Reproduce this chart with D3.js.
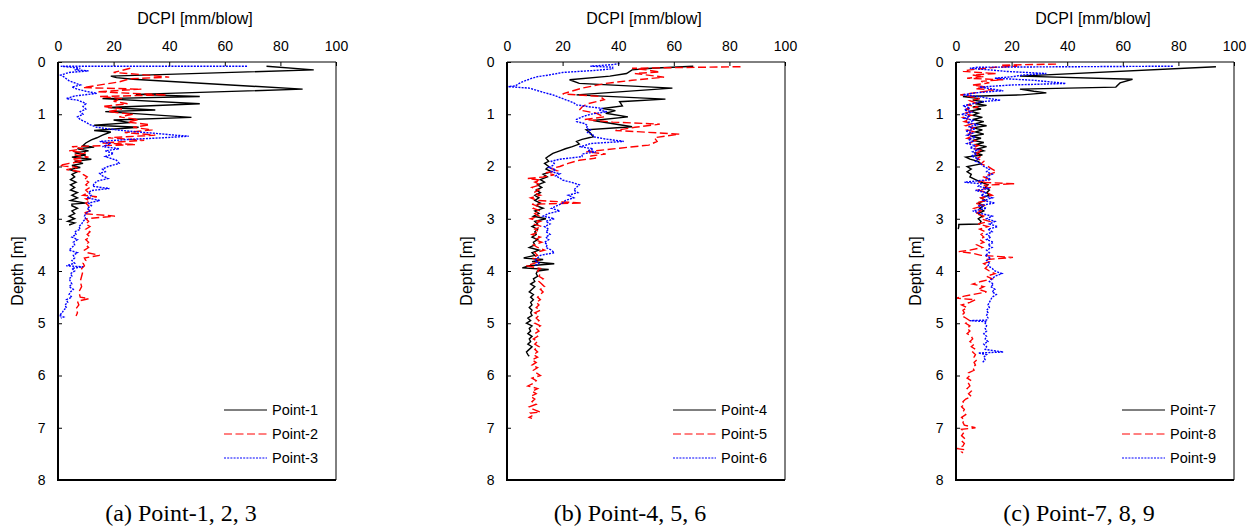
<!DOCTYPE html>
<html>
<head>
<meta charset="utf-8">
<script src="https://cdn.jsdelivr.net/npm/d3@7"></script>
<style>
  body { margin: 0; background: #fff; }
  text { font-family: "Liberation Sans", Arial, sans-serif; fill: #000; }
  .caption { font-family: "Liberation Serif", "Times New Roman", serif; }
</style>
</head>
<body>
<div class="chart"></div>
<script>
// tick values and labels
var xTicks = [0, 20, 40, 60, 80, 100];
var yTicks = [0, 1, 2, 3, 4, 5, 6, 7, 8];
var xTitle = "DCPI [mm/blow]";
var yTitle = "Depth [m]";
var captions = ["(a) Point-1, 2, 3", "(b) Point-4, 5, 6", "(c) Point-7, 8, 9"];
var seriesNames = [["Point-1", "Point-2", "Point-3"],
                   ["Point-4", "Point-5", "Point-6"],
                   ["Point-7", "Point-8", "Point-9"]];

// each point is [depth (m), DCPI (mm/blow)]
var point1 = [[0.08,75],[0.15,92],[0.27,19],[0.30,21],[0.33,27],[0.52,88],[0.62,28],[0.66,51],[0.70,16],[0.80,51],
  [0.87,18],[0.92,35],[0.95,17],[1.06,48],[1.11,20],[1.16,26],[1.21,13],[1.25,29],[1.31,13],[1.34,19],[1.40,16],
  [1.45,14],[1.49,12],[1.55,10],[1.60,9],[1.63,13],[1.66,7],[1.70,11],[1.74,6],[1.78,10],[1.82,5],[1.86,12],
  [1.90,6],[1.94,9],[1.98,5],[2.02,8],[2.06,4],[2.10,7],[2.15,5],[2.20,6],[2.25,4.5],[2.30,6.5],[2.35,4.5],
  [2.40,6],[2.45,4.5],[2.50,7],[2.55,5],[2.60,7],[2.65,4.5],[2.70,10],[2.72,5],[2.75,5],[2.80,7],[2.85,5],
  [2.90,6],[2.95,4],[3.00,6],[3.05,3.5],[3.08,6],[3.12,4]];

var point2 = [[0.12,26],[0.20,20],[0.24,30],[0.29,40],[0.32,26],[0.38,22],[0.49,9],[0.52,30],[0.57,14],[0.63,39],
  [0.66,15],[0.70,23],[0.75,20],[0.80,25],[0.85,16],[0.90,23],[0.95,18],[1.00,27],[1.05,22],[1.10,29],[1.15,25],
  [1.20,33],[1.25,27],[1.30,34],[1.35,24],[1.40,35],[1.45,18],[1.50,31],[1.55,16],[1.58,28],[1.62,5],[1.66,9],
  [1.70,4],[1.74,10],[1.78,6],[1.82,11],[1.86,5],[1.90,9],[1.94,4],[1.98,0.5],[2.02,7],[2.06,3],[2.10,8],
  [2.15,9],[2.20,10.5],[2.25,9.5],[2.30,11],[2.35,10],[2.40,11.5],[2.45,10],[2.50,11],[2.55,9],[2.58,14],
  [2.62,10],[2.66,11.5],[2.70,10],[2.75,11],[2.80,10.5],[2.85,11.5],[2.90,9],[2.95,20.5],[3.00,10],[3.05,11],
  [3.10,10],[3.15,11.5],[3.20,10],[3.25,11.5],[3.30,10.5],[3.35,11.5],[3.40,10],[3.45,11],[3.50,10],[3.55,11],
  [3.60,9.5],[3.65,10.5],[3.70,15],[3.75,9.5],[3.80,10],[3.85,9],[3.90,9.5],[3.95,8.5],[4.00,9],[4.10,8.5],
  [4.20,8],[4.30,8.5],[4.40,7.5],[4.50,8],[4.53,11],[4.58,7],[4.65,7.5],[4.72,6.5],[4.80,7],[4.86,6.5]];

var point3 = [[0.08,68],[0.08,1],[0.12,8],[0.15,6],[0.17,11],[0.20,4],[0.25,1],[0.28,2],[0.32,3],[0.36,4],
  [0.40,6],[0.44,8],[0.48,5],[0.52,7],[0.56,10],[0.60,14],[0.65,6],[0.70,3],[0.73,7],[0.77,9],[0.80,10],
  [0.85,9],[0.90,10],[0.95,8],[1.00,9],[1.05,7],[1.10,8],[1.15,10],[1.20,11.5],[1.25,14],[1.30,21],[1.34,29],
  [1.37,36],[1.40,42],[1.42,47],[1.45,38],[1.48,26],[1.52,15],[1.56,19],[1.62,16],[1.66,22],[1.70,17],
  [1.75,20],[1.81,17],[1.88,21],[1.94,22],[2.00,18],[2.05,16],[2.10,17],[2.13,15],[2.18,16],[2.23,18],
  [2.28,14],[2.33,13],[2.38,12.5],[2.42,18.5],[2.46,12],[2.50,11],[2.55,12],[2.60,10.5],[2.65,15],[2.70,11],
  [2.75,12],[2.80,10.5],[2.85,11.5],[2.90,10],[2.95,9.5],[3.00,10],[3.05,9],[3.10,8.5],[3.15,7.5],[3.20,8],
  [3.25,6],[3.30,6.5],[3.35,5],[3.40,7],[3.45,5.5],[3.50,6],[3.55,5],[3.60,4],[3.65,7],[3.70,5.5],[3.75,6],
  [3.80,5],[3.85,6],[3.90,3],[3.92,9],[3.95,5],[4.00,6],[4.05,4.5],[4.10,5],[4.15,4],[4.20,4.5],[4.25,5],
  [4.30,4],[4.35,5.5],[4.40,4.5],[4.45,4],[4.50,5],[4.55,3],[4.60,3.5],[4.65,2.5],[4.70,3],[4.75,2],
  [4.80,1.5],[4.85,0.5],[4.88,2],[4.90,1]];

var point4 = [[0.08,67],[0.12,52],[0.15,45],[0.22,43],[0.27,37],[0.34,22.5],[0.41,26],[0.50,59.5],[0.63,25],
  [0.71,57],[0.76,40.5],[0.84,41.5],[0.89,34.5],[0.93,39],[0.98,35.5],[1.05,43.5],[1.12,31],[1.24,45],[1.30,28.5],
  [1.36,30],[1.43,31],[1.48,27],[1.52,25],[1.57,26],[1.62,23.5],[1.66,21],[1.70,19],[1.75,16.5],[1.80,15],
  [1.84,14],[1.90,15],[1.94,13.5],[2.00,15],[2.05,14],[2.10,16],[2.15,13],[2.20,14.5],[2.25,12],[2.30,13.5],
  [2.35,11],[2.40,12.5],[2.45,10.5],[2.50,12],[2.55,10],[2.60,11.5],[2.65,10],[2.70,12],[2.75,10.5],[2.80,13],
  [2.85,10],[2.90,11.5],[2.95,9.5],[3.00,14],[3.05,10],[3.10,11],[3.15,9],[3.20,11],[3.25,10],[3.30,10.5],
  [3.35,9],[3.40,11],[3.45,9.5],[3.50,10],[3.55,8],[3.60,11.5],[3.65,9],[3.70,10],[3.75,6],[3.78,13],[3.82,9],
  [3.86,17],[3.90,8],[3.94,5.5],[3.97,15],[4.00,11],[4.05,10.5],[4.10,11],[4.15,9.5],[4.20,10],[4.25,8.5],
  [4.30,10],[4.35,9],[4.40,8],[4.45,9.5],[4.50,8.5],[4.55,9.5],[4.60,8.5],[4.65,9],[4.70,8],[4.75,9],[4.80,8.5],
  [4.85,9],[4.90,7.5],[4.95,8.5],[5.00,7],[5.05,9],[5.10,8],[5.15,8.5],[5.20,7.5],[5.25,9],[5.30,8],[5.35,8.5],
  [5.40,7.5],[5.45,9],[5.50,8],[5.55,7],[5.60,7.5],[5.63,8]];

var point5 = [[0.09,84],[0.12,45],[0.15,50],[0.19,55],[0.22,46],[0.29,56.5],[0.35,45],[0.41,35.5],[0.50,27],
  [0.61,20],[0.66,33.5],[0.72,35],[0.80,29],[0.86,27],[0.92,26],[0.98,32],[1.05,35],[1.10,28],[1.15,38],[1.19,55],
  [1.25,46],[1.31,39],[1.38,62],[1.45,53],[1.52,54],[1.59,51],[1.63,44],[1.65,40.5],[1.72,28.5],[1.76,35.5],
  [1.80,30],[1.84,32],[1.88,26],[1.94,22],[2.00,19],[2.04,16],[2.08,18],[2.12,14],[2.16,17],[2.20,13],[2.23,7.5],
  [2.26,12],[2.30,10],[2.35,12],[2.40,9],[2.45,11.5],[2.50,9.5],[2.55,12],[2.60,8.5],[2.65,11],[2.70,27],
  [2.72,9],[2.76,11],[2.80,9.5],[2.85,12],[2.90,10],[2.95,11.5],[3.00,8.5],[3.05,12],[3.10,9.5],[3.15,12.5],
  [3.20,10],[3.25,11.5],[3.30,9],[3.35,12],[3.40,10],[3.45,12.5],[3.50,9.5],[3.55,11],[3.60,13.5],[3.65,10],
  [3.70,11],[3.75,9],[3.80,12],[3.85,10],[3.90,7],[3.95,12],[4.00,11],[4.05,12],[4.10,11.5],[4.15,13],
  [4.20,11.5],[4.25,12.5],[4.30,13.5],[4.35,12],[4.40,13],[4.45,12],[4.50,11],[4.55,12],[4.60,10.5],[4.65,11.5],
  [4.70,10.5],[4.75,12],[4.80,10],[4.85,11.5],[4.90,10.5],[4.95,11.5],[5.00,10],[5.05,12],[5.10,10.5],[5.15,11.5],
  [5.20,10],[5.25,11],[5.30,9.5],[5.35,11],[5.40,10],[5.45,11.5],[5.50,10],[5.55,11],[5.60,9.5],[5.65,11],
  [5.70,9],[5.75,10.5],[5.80,9],[5.85,11],[5.90,9.5],[5.95,10.5],[6.00,12],[6.05,9],[6.10,10.5],[6.15,9.5],
  [6.20,7.5],[6.25,11],[6.30,9],[6.35,10.5],[6.40,8.5],[6.45,10],[6.50,9],[6.55,10.5],[6.60,8],[6.65,9.5],
  [6.70,12],[6.72,8.5],[6.76,9.5],[6.80,8],[6.82,9]];

var point6 = [[0.03,40.5],[0.05,38],[0.08,30],[0.10,38],[0.13,38],[0.16,32],[0.20,20],[0.25,15],[0.28,11],
  [0.31,9],[0.35,7],[0.38,5.5],[0.42,4],[0.46,3],[0.47,0],[0.50,8],[0.54,10.5],[0.58,13],[0.63,16.5],[0.68,19],
  [0.73,21.5],[0.78,24],[0.82,25],[0.86,30],[0.89,34.5],[0.92,33],[0.95,36],[1.00,30],[1.05,27],[1.10,25],
  [1.14,25],[1.18,28],[1.22,29],[1.27,28.5],[1.30,30],[1.35,29],[1.40,31],[1.43,31],[1.47,35],[1.52,42],
  [1.56,30],[1.60,28],[1.62,26],[1.66,31],[1.70,29],[1.72,32],[1.76,27],[1.81,27],[1.86,19],[1.90,16],[1.94,17],
  [1.98,16.5],[2.02,15],[2.06,17.5],[2.10,16],[2.14,19],[2.18,17.5],[2.22,19],[2.26,20],[2.30,23],[2.35,26],
  [2.40,25],[2.45,24],[2.50,25.5],[2.55,22],[2.60,24],[2.65,21],[2.70,20],[2.75,18],[2.80,16],[2.85,19],
  [2.90,15],[2.95,13],[3.00,17],[3.05,14],[3.10,15.5],[3.15,13.5],[3.20,15],[3.25,14],[3.30,15.5],[3.35,14],
  [3.40,15],[3.45,13.5],[3.50,14.5],[3.55,14],[3.60,16],[3.65,17],[3.70,12],[3.75,11],[3.80,10],[3.85,11.5],
  [3.90,10]];

var point7 = [[0.09,93.5],[0.27,23],[0.33,63.5],[0.40,59],[0.48,57.5],[0.52,23],[0.56,28],[0.59,32.5],[0.63,23.5],
  [0.66,2.5],[0.70,8.5],[0.73,6],[0.76,10],[0.80,7],[0.83,11],[0.86,6],[0.90,9],[0.94,5],[0.98,8],[1.02,6],
  [1.06,9.5],[1.10,6],[1.14,10],[1.18,7],[1.22,11],[1.26,6],[1.30,9.5],[1.34,7],[1.38,10],[1.42,5.5],[1.46,9],
  [1.50,6],[1.54,10],[1.58,7],[1.62,11],[1.66,8],[1.70,10],[1.74,7],[1.78,9.5],[1.82,3.5],[1.86,5],[1.90,8],
  [1.95,9],[2.00,4],[2.05,5.5],[2.10,4],[2.15,5.5],[2.20,5],[2.25,7],[2.30,9],[2.35,11.5],[2.40,10.5],[2.45,12],
  [2.50,11],[2.55,12],[2.60,9],[2.65,10.5],[2.70,8],[2.75,10],[2.80,8.5],[2.85,10],[2.90,8],[2.95,9.5],[3.00,8],
  [3.05,9],[3.10,8.5],[3.11,1],[3.15,1],[3.20,0.8]];

var point8 = [[0.04,36],[0.06,16],[0.08,22],[0.10,14],[0.13,9],[0.15,5],[0.18,2.5],[0.20,8],[0.22,14.5],[0.25,6],
  [0.28,10],[0.31,4],[0.34,17],[0.37,9],[0.40,12],[0.44,6],[0.48,11],[0.51,7],[0.54,13.5],[0.58,8],[0.63,1.5],
  [0.66,5],[0.70,8.5],[0.74,5],[0.78,7],[0.82,4],[0.86,8],[0.90,3.5],[0.94,6],[0.98,3],[1.02,5.5],[1.06,2.5],
  [1.10,5],[1.14,3],[1.18,6],[1.22,3.5],[1.26,6.5],[1.30,4],[1.34,7],[1.38,4.5],[1.42,6],[1.46,4],[1.50,7],
  [1.55,5],[1.60,8],[1.65,6],[1.70,9.5],[1.75,7],[1.80,9],[1.85,7.5],[1.90,10],[1.95,9],[2.00,11.5],[2.05,13],
  [2.10,14.5],[2.15,12],[2.20,10],[2.25,12],[2.30,8],[2.33,21],[2.36,10],[2.40,12.5],[2.45,8],[2.50,11],
  [2.55,13],[2.60,9],[2.65,11],[2.70,7],[2.75,10],[2.80,6.5],[2.85,9],[2.90,7],[2.95,10],[3.00,9],[3.05,12],
  [3.10,8],[3.15,11.5],[3.20,8.5],[3.25,10.5],[3.30,9],[3.35,10],[3.40,8.5],[3.45,10],[3.50,7.5],[3.55,9.5],
  [3.60,5],[3.63,1],[3.66,6],[3.70,9],[3.74,20.5],[3.78,11],[3.82,12],[3.86,10],[3.90,11.5],[3.95,10.5],
  [4.00,12],[4.05,14],[4.10,11],[4.15,13],[4.20,9],[4.25,6],[4.30,10],[4.35,8],[4.40,11],[4.45,6],[4.48,3],
  [4.52,0],[4.55,7],[4.60,5],[4.65,2],[4.70,4],[4.75,2.5],[4.80,3],[4.85,2],[4.90,3.5],[4.95,5],[5.00,3.5],
  [5.05,5],[5.10,4],[5.15,5],[5.20,4],[5.25,5.5],[5.30,6],[5.35,5],[5.40,6.5],[5.45,5.5],[5.50,7],[5.55,6],
  [5.60,7],[5.65,6.5],[5.70,7.5],[5.75,6.5],[5.80,7],[5.85,6],[5.90,6.5],[5.95,4.5],[6.00,5],[6.05,4],[6.10,5.5],
  [6.15,4.5],[6.20,5],[6.25,4],[6.30,5.5],[6.35,4.5],[6.40,5.5],[6.45,3.5],[6.50,2.5],[6.55,3],[6.60,2],
  [6.65,3],[6.70,2.5],[6.75,3.5],[6.80,2],[6.85,3],[6.90,2.5],[6.95,3],[7.00,7],[7.03,2],[7.08,3],[7.15,2],
  [7.20,3],[7.25,2],[7.30,3],[7.35,2.5],[7.40,0.5],[7.42,3],[7.46,2],[7.48,2.5]];

var point9 = [[0.08,78],[0.10,8],[0.12,5],[0.15,12],[0.18,18],[0.22,32.5],[0.25,24],[0.28,20.5],[0.31,14],
  [0.35,28],[0.41,39.5],[0.44,20],[0.48,8.5],[0.51,12],[0.55,17],[0.59,7],[0.63,2.5],[0.66,8],[0.70,12],
  [0.73,16],[0.76,9],[0.80,6],[0.84,2.5],[0.88,5],[0.92,3],[0.96,6],[1.00,2],[1.04,5],[1.08,3],[1.12,6.5],
  [1.16,4],[1.20,8],[1.24,4.5],[1.28,7],[1.32,3.5],[1.36,6],[1.40,4],[1.44,7],[1.48,4.5],[1.52,6],[1.56,4],
  [1.60,7],[1.64,5],[1.68,8],[1.72,6],[1.76,7.5],[1.80,5.5],[1.85,8],[1.90,7],[1.95,9],[2.00,10],[2.05,12],
  [2.10,11],[2.15,13],[2.20,11],[2.25,12.5],[2.30,3],[2.33,9],[2.38,8],[2.42,12],[2.46,7],[2.50,11],[2.55,9],
  [2.60,13],[2.65,10],[2.70,14],[2.75,8],[2.80,11],[2.85,6],[2.90,9],[2.95,13],[3.00,11],[3.05,14],[3.10,12],
  [3.15,15],[3.20,11.5],[3.25,13],[3.30,11],[3.35,12.5],[3.40,11],[3.45,13.5],[3.50,11.5],[3.55,13],[3.60,11],
  [3.65,12],[3.70,10.5],[3.75,12.5],[3.80,11],[3.85,12],[3.90,11.5],[3.95,13],[4.00,14],[4.05,16.5],[4.10,14],
  [4.15,13],[4.20,12],[4.25,13.5],[4.30,12.5],[4.35,14],[4.40,13],[4.45,14.5],[4.50,13],[4.55,12.5],[4.60,12],
  [4.65,11.5],[4.70,12],[4.75,11],[4.80,11.5],[4.85,11],[4.90,11.5],[4.94,11],[4.95,5],[4.97,11],[5.00,10.5],
  [5.05,11],[5.10,10.5],[5.15,11],[5.20,10],[5.25,11],[5.30,10.5],[5.35,11.5],[5.40,10],[5.45,11],[5.50,10.5],
  [5.52,13],[5.55,17],[5.57,8],[5.60,11],[5.65,10],[5.70,10.5],[5.75,9.5]];

var panelSeries = [[point1, point2, point3], [point4, point5, point6], [point7, point8, point9]];

// layout
var plotW = 278, plotH = 418, plotTop = 62, firstLeft = 58, panelStep = 449;

// line styles, by position inside each panel
var styles = [
    {stroke: "#000", dash: null},
    {stroke: "#ff0000", dash: "8,3.5"},
    {stroke: "#0000ff", dash: "2,1.2"}
];

var svg = d3.select(".chart").append("svg")
    .attr("width", 1259)
    .attr("height", 530);

var x = d3.scaleLinear().domain([0, 100]).range([0, plotW]);
var y = d3.scaleLinear().domain([0, 8]).range([0, plotH]);

var valueline = d3.line()
    .x(function(d) { return x(d[1]); })
    .y(function(d) { return y(d[0]); });

panelSeries.forEach(function(series, p) {

    var g = svg.append("g")
        .attr("transform", "translate(" + (firstLeft + p * panelStep) + "," + plotTop + ")");

    // series lines (the dense blow-by-blow traces look heavy in the original)
    series.forEach(function(data, i) {
        g.append("path")
            .attr("d", valueline(data))
            .attr("fill", "none")
            .attr("stroke", styles[i].stroke)
            .attr("stroke-width", 1.4)
            .attr("stroke-dasharray", styles[i].dash);
    });

    // top axis, ticks pointing into the plot
    var xAxis = d3.axisTop(x).tickValues(xTicks).tickSizeInner(-4).tickSizeOuter(0).tickPadding(10);
    var gx = g.append("g").call(xAxis);
    gx.select(".domain").remove();
    gx.selectAll("line").attr("stroke", "#000");
    gx.selectAll("text")
        .attr("y", -11)
        .style("font-size", "14px")
        .style("font-family", "Liberation Sans, Arial, sans-serif");

    // left axis, ticks pointing into the plot
    var yAxis = d3.axisLeft(y).tickValues(yTicks).tickSizeInner(-4).tickSizeOuter(0).tickPadding(12);
    var gy = g.append("g").call(yAxis);
    gy.select(".domain").remove();
    gy.selectAll("line").attr("stroke", "#000");
    gy.selectAll("text")
        .attr("x", -12.5)
        .style("font-size", "14px")
        .style("font-family", "Liberation Sans, Arial, sans-serif");

    // frame: left and bottom heavier
    g.append("line").attr("x1", 0).attr("x2", plotW).attr("y1", 0).attr("y2", 0)
        .attr("stroke", "#000").attr("stroke-width", 1);
    g.append("line").attr("x1", plotW).attr("x2", plotW).attr("y1", 0).attr("y2", plotH)
        .attr("stroke", "#000").attr("stroke-width", 1);
    g.append("line").attr("x1", 0).attr("x2", 0).attr("y1", 0).attr("y2", plotH + 1)
        .attr("stroke", "#000").attr("stroke-width", 2);
    g.append("line").attr("x1", -1).attr("x2", plotW).attr("y1", plotH).attr("y2", plotH)
        .attr("stroke", "#000").attr("stroke-width", 2);

    // axis titles
    g.append("text")
        .text(xTitle)
        .attr("text-anchor", "middle")
        .attr("x", plotW / 2 - 2)
        .attr("y", -38)
        .style("font-size", "16px");

    g.append("text")
        .text(yTitle)
        .attr("text-anchor", "middle")
        .attr("transform", "translate(-35," + (plotH / 2) + ") rotate(-90)")
        .style("font-size", "16px");

    // legend
    var legend = g.append("g").attr("transform", "translate(166," + (410 - plotTop) + ")");
    seriesNames[p].forEach(function(name, i) {
        legend.append("line")
            .attr("x1", 0).attr("x2", 43)
            .attr("y1", i * 24).attr("y2", i * 24)
            .attr("stroke", styles[i].stroke)
            .attr("stroke-width", 1)
            .attr("stroke-dasharray", styles[i].dash);
        legend.append("text")
            .text(name)
            .attr("x", 48)
            .attr("y", i * 24 + 5)
            .style("font-size", "14.5px");
    });

    // caption under the panel
    g.append("text")
        .attr("class", "caption")
        .text(captions[p])
        .attr("text-anchor", "middle")
        .attr("x", 123)
        .attr("y", 521 - plotTop)
        .style("font-size", "24px");
});
</script>
</body>
</html>
